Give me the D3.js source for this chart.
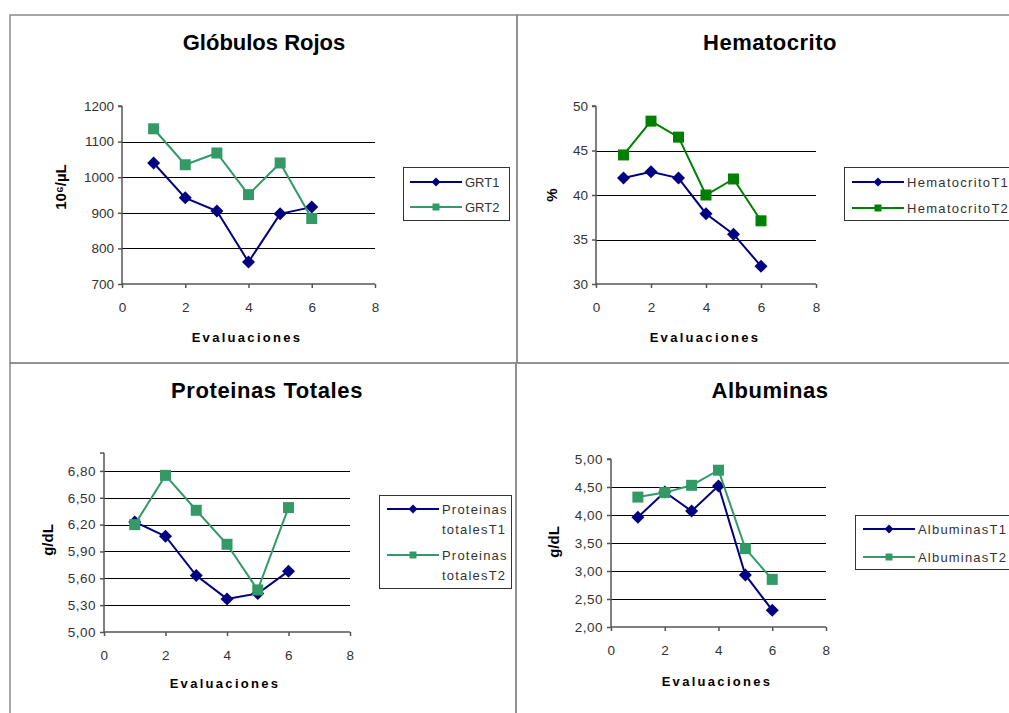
<!DOCTYPE html>
<html>
<head>
<meta charset="utf-8">
<script src="https://cdn.jsdelivr.net/npm/d3@7"></script>
<style>
  body { margin: 0; background: #fff; }
  svg text { font-family: "Liberation Sans", Arial, sans-serif; }
</style>
</head>
<body>
<svg id="chart" width="1009" height="713"></svg>
<script>
// Values
var evaluaciones = [1, 2, 3, 4, 5, 6];
var xTicks = [0, 2, 4, 6, 8];

var grT1 = [1040, 942, 905, 762, 897, 916];
var grT2 = [1136, 1035, 1068, 951, 1040, 884];
var grTicks = [700, 800, 900, 1000, 1100, 1200];

var hemT1 = [41.9, 42.6, 41.9, 37.9, 35.6, 32.0];
var hemT2 = [44.5, 48.3, 46.5, 40.0, 41.8, 37.1];
var hemTicks = [30, 35, 40, 45, 50];

var protT1 = [6.23, 6.07, 5.63, 5.37, 5.43, 5.68];
var protT2 = [6.20, 6.75, 6.36, 5.98, 5.47, 6.39];
var protTicks = [5.00, 5.30, 5.60, 5.90, 6.20, 6.50, 6.80];

var albT1 = [3.96, 4.41, 4.07, 4.52, 2.93, 2.30];
var albT2 = [4.32, 4.40, 4.53, 4.80, 3.40, 2.85];
var albTicks = [2.00, 2.50, 3.00, 3.50, 4.00, 4.50, 5.00];

var navy = "#000080", seaGreen = "#339966", green = "#008000";
var comma = function (d) { return d3.format(".2f")(d).replace(".", ","); };

var svg = d3.select("#chart");

// Panel frames
[[10, 15, 507, 348], [517, 15, 498, 348], [10, 363, 506, 360], [516, 363, 499, 360]]
  .forEach(function (f) {
    svg.append("rect").attr("x", f[0]).attr("y", f[1]).attr("width", f[2]).attr("height", f[3])
      .attr("fill", "none").attr("stroke", "#8a8a8a").attr("stroke-width", 1.5);
  });

function drawPanel(p) {
  var g = svg.append("g");
  var x = d3.scaleLinear().domain([0, 8]).range([p.x0, p.x1]);
  var y = d3.scaleLinear().domain(p.domain).range([p.yBot, p.yTop]);

  // Title
  g.append("text").attr("x", p.titleX).attr("y", p.titleY)
    .attr("text-anchor", "middle").style("font-size", "22px").style("font-weight", "bold")
    .style("letter-spacing", p.titleSpacing + "px").text(p.title);

  // Gridlines (not at the bottom nor at the top of the axis)
  g.selectAll(".grid").data(p.yTicks.filter(function (t) { return t > p.domain[0] && t < p.domain[1]; }))
    .enter().append("line")
    .attr("x1", p.x0).attr("x2", p.x1)
    .attr("y1", function (d) { return Math.round(y(d)) + 0.5; })
    .attr("y2", function (d) { return Math.round(y(d)) + 0.5; })
    .attr("stroke", "#000").attr("stroke-width", 1);

  // Y axis
  var yAxis = d3.axisLeft(y).tickValues(p.yTicks).tickSize(4).tickPadding(4).tickFormat(p.fmt);
  var ya = g.append("g").attr("transform", "translate(" + p.x0 + ",0)").call(yAxis);
  // X axis
  var xAxis = d3.axisBottom(x).tickValues(xTicks).tickSize(4).tickPadding(14).tickSizeOuter(0);
  var xa = g.append("g").attr("transform", "translate(0," + p.yBot + ")").call(xAxis);
  [ya, xa].forEach(function (a) {
    a.select(".domain").attr("stroke", "#555").attr("stroke-width", 1.5);
    a.selectAll(".tick line").attr("stroke", "#555").attr("stroke-width", 1.5);
    a.selectAll("text").style("font-size", "13.5px").style("letter-spacing", p.tickSpacing + "px")
      .attr("fill", "#333").attr("font-family", null);
  });
  ya.select(".domain").attr("d", "M0," + p.yBot + "V" + p.yTop + "M-4," + p.yTop + "H0");
  xa.select(".domain").attr("d", "M" + p.x0 + ",0H" + p.x1);

  // Axis titles
  g.append("text").attr("x", p.xLabelX).attr("y", p.xLabelY).attr("text-anchor", "middle")
    .style("font-size", "13px").style("font-weight", "bold").style("letter-spacing", "2.3px")
    .text("Evaluaciones");
  g.append("text").attr("transform", "translate(" + p.yLabelX + "," + p.yLabelY + ") rotate(-90)")
    .attr("text-anchor", "middle").attr("dominant-baseline", "central")
    .style("font-size", "15px").style("font-weight", "bold").text(p.yLabel);

  // Series
  var line = d3.line().x(function (d, i) { return x(evaluaciones[i]); }).y(function (d) { return y(d); });
  p.series.forEach(function (s) {
    g.append("path").datum(s.values).attr("d", line)
      .attr("fill", "none").attr("stroke", s.color).attr("stroke-width", 2);
    g.selectAll(null).data(s.values).enter().append("path")
      .attr("transform", function (d, i) { return "translate(" + x(evaluaciones[i]) + "," + y(d) + ")"; })
      .attr("d", s.shape === "diamond" ? "M0,-6.5L6.5,0L0,6.5L-6.5,0Z" : "M-5.5,-5.5H5.5V5.5H-5.5Z")
      .attr("fill", s.color);
  });

  // Legend
  var L = p.legend;
  g.append("rect").attr("x", L.x + 0.5).attr("y", L.y + 0.5).attr("width", L.w).attr("height", L.h)
    .attr("fill", "#fff").attr("stroke", "#333").attr("stroke-width", 1);
  p.series.forEach(function (s, i) {
    var ly = L.rows[i];
    g.append("line").attr("x1", L.lineX).attr("x2", L.lineX + 52).attr("y1", ly).attr("y2", ly)
      .attr("stroke", s.color).attr("stroke-width", 2);
    g.append("path").attr("transform", "translate(" + (L.lineX + 26) + "," + ly + ")")
      .attr("d", s.shape === "diamond" ? "M0,-4.5L4.5,0L0,4.5L-4.5,0Z" : "M-3.5,-3.5H3.5V3.5H-3.5Z")
      .attr("fill", s.color);
    var t = g.append("text").attr("x", L.lineX + 55).attr("y", ly)
      .style("font-size", "13px").style("letter-spacing", L.spacing + "px").attr("fill", "#333");
    s.name.forEach(function (part, k) {
      t.append("tspan").attr("x", L.lineX + 55).attr("dy", k === 0 ? "0.35em" : "20px").text(part);
    });
  });
}

drawPanel({
  title: "Glóbulos Rojos", titleX: 264, titleY: 50, titleSpacing: 0,
  x0: 122, x1: 375, yTop: 106, yBot: 284, domain: [700, 1200], yTicks: grTicks,
  fmt: d3.format("d"), tickSpacing: 0,
  xLabelX: 247, xLabelY: 342, yLabel: "10⁶/µL", yLabelX: 60, yLabelY: 187,
  series: [
    { name: ["GRT1"], values: grT1, color: navy, shape: "diamond" },
    { name: ["GRT2"], values: grT2, color: seaGreen, shape: "square" }
  ],
  legend: { x: 403, y: 167, w: 106, h: 53, rows: [182, 207], lineX: 410, spacing: 0 }
});

drawPanel({
  title: "Hematocrito", titleX: 770, titleY: 50, titleSpacing: 0.5,
  x0: 596, x1: 816, yTop: 106, yBot: 284, domain: [30, 50], yTicks: hemTicks,
  fmt: d3.format("d"), tickSpacing: 0,
  xLabelX: 705, xLabelY: 342, yLabel: "%", yLabelX: 551, yLabelY: 195,
  series: [
    { name: ["HematocritoT1"], values: hemT1, color: navy, shape: "diamond" },
    { name: ["HematocritoT2"], values: hemT2, color: green, shape: "square" }
  ],
  legend: { x: 844, y: 167, w: 180, h: 53, rows: [182, 208], lineX: 852, spacing: 1.3 }
});

drawPanel({
  title: "Proteinas Totales", titleX: 267, titleY: 398, titleSpacing: 0.6,
  x0: 104, x1: 350, yTop: 453, yBot: 632, domain: [5, 7], yTicks: protTicks,
  fmt: comma, tickSpacing: 0.5,
  xLabelX: 225, xLabelY: 688, yLabel: "g/dL", yLabelX: 47, yLabelY: 540,
  series: [
    { name: ["Proteinas", "totalesT1"], values: protT1, color: navy, shape: "diamond" },
    { name: ["Proteinas", "totalesT2"], values: protT2, color: seaGreen, shape: "square" }
  ],
  legend: { x: 379, y: 495, w: 132, h: 93, rows: [509, 555], lineX: 387, spacing: 1.2 }
});

drawPanel({
  title: "Albuminas", titleX: 770, titleY: 398, titleSpacing: 0.5,
  x0: 611, x1: 826, yTop: 459, yBot: 627, domain: [2, 5], yTicks: albTicks,
  fmt: comma, tickSpacing: 0.5,
  xLabelX: 717, xLabelY: 686, yLabel: "g/dL", yLabelX: 553, yLabelY: 542,
  series: [
    { name: ["AlbuminasT1"], values: albT1, color: navy, shape: "diamond" },
    { name: ["AlbuminasT2"], values: albT2, color: seaGreen, shape: "square" }
  ],
  legend: { x: 855, y: 515, w: 170, h: 54, rows: [529, 557], lineX: 863, spacing: 1.2 }
});
</script>
</body>
</html>
